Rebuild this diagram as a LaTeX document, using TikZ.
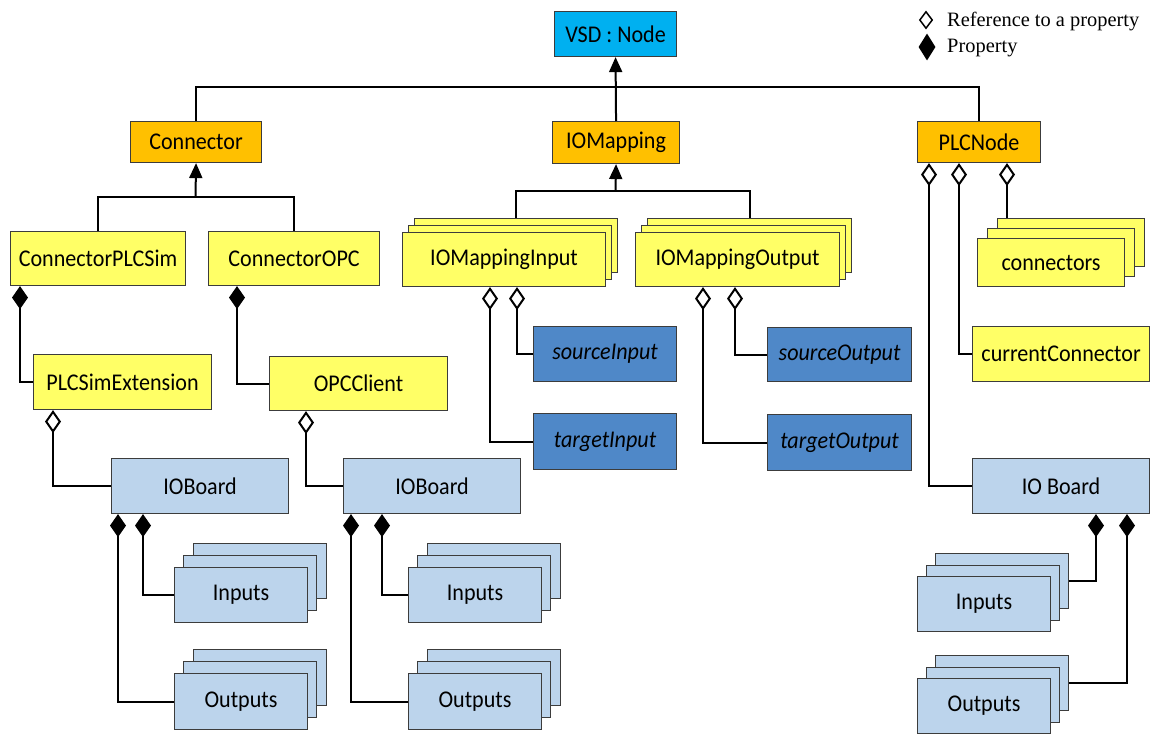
\documentclass[tikz,border=0pt]{standalone}
\usepackage{fontspec}
\setmainfont{Carlito}[FakeStretch=0.92]
\newfontfamily\legendfont{Liberation Serif}
\usetikzlibrary{arrows.meta,shapes.geometric}

\definecolor{vsdblue}{HTML}{00B0F0}
\definecolor{basegold}{HTML}{FFC000}
\definecolor{classyellow}{HTML}{FFFF66}
\definecolor{refblue}{HTML}{4F88C8}
\definecolor{ioblue}{HTML}{BCD4EC}
\definecolor{edge}{HTML}{3C3C3C}

\begin{document}
\begin{tikzpicture}[x=1pt,y=-1pt,
  box/.style={draw=edge, line width=1.1pt, inner sep=0pt, anchor=north west,
              font=\fontsize{24}{26}\selectfont},
  wh/.style 2 args={minimum width=#1pt, minimum height=#2pt},
  vsdbox/.style={box, fill=vsdblue},
  basebox/.style={box, fill=basegold},
  classbox/.style={box, fill=classyellow},
  propbox/.style={box, fill=refblue, font=\fontsize{24}{26}\selectfont\itshape},
  iobox/.style={box, fill=ioblue},
  link/.style={line width=2pt},
  inherit/.style={link, -{Triangle[width=13pt,length=15pt]}},
  owns/.style={link, {Diamond[width=16pt,length=23pt]}-},
  refers/.style={link, {Diamond[width=16pt,length=23pt,fill=white]}-},
  legendtext/.style={anchor=base west, inner sep=0pt,
                     font=\legendfont\fontsize{20.4}{22}\selectfont},
]
\path[use as bounding box, fill=white] (0,0) rectangle (1150,733);

% ---- legend
\node[diamond, draw=black, line width=1.5pt, fill=white, inner sep=0pt,
      minimum width=13pt, minimum height=17pt] (lgref) at (926,20) {};
\node[diamond, fill=black, inner sep=0pt,
      minimum width=17pt, minimum height=27pt] (lgprop) at (927,47) {};
\node[legendtext] (lgreftext) at (947,27) {Reference to a property};
\node[legendtext] (lgproptext) at (947,53) {Property};

% ---- class hierarchy
\node[vsdbox, wh={122}{45}] (vsd) at (554,11) {VSD : Node};
\node[basebox, wh={131}{41}] (conn) at (130,121) {Connector};
\node[basebox, wh={127}{42}] (iomap) at (552,121) {IOMapping};
\node[basebox, wh={123}{41}] (plc) at (917,121) {PLCNode};

\node[classbox, wh={175}{54}] (cplc) at (10,231) {ConnectorPLCSim};
\node[classbox, wh={171}{54}] (copc) at (208,231) {ConnectorOPC};
\node[classbox, wh={178}{55}] (ext) at (33,354) {PLCSimExtension};
\node[classbox, wh={178}{54}] (opc) at (269,356) {OPCClient};

\node[iobox, wh={177}{55}] (ioA) at (111,458) {IOBoard};
\node[iobox, wh={177}{55}] (ioB) at (343,458) {IOBoard};

% collections drawn as three stacked boxes, back to front
\node[iobox, wh={133}{55}] (inA3) at (192.6,543) {};
\node[iobox, wh={133}{55}] (inA2) at (183.3,555) {};
\node[iobox, wh={133}{55}] (inA) at (174,567) {Inputs};
\node[iobox, wh={133}{56}] (outA3) at (192.6,649) {};
\node[iobox, wh={133}{56}] (outA2) at (183.3,661) {};
\node[iobox, wh={133}{56}] (outA) at (174,673) {Outputs};

\node[iobox, wh={133}{55}] (inB3) at (426.6,543) {};
\node[iobox, wh={133}{55}] (inB2) at (417.3,555) {};
\node[iobox, wh={133}{55}] (inB) at (408,567) {Inputs};
\node[iobox, wh={133}{56}] (outB3) at (426.6,649) {};
\node[iobox, wh={133}{56}] (outB2) at (417.3,661) {};
\node[iobox, wh={133}{56}] (outB) at (408,673) {Outputs};

\node[classbox, wh={203}{54}] (mapIn3) at (414,218) {};
\node[classbox, wh={203}{54}] (mapIn2) at (408,225) {};
\node[classbox, wh={203}{54}] (mapIn) at (402,232) {IOMappingInput};
\node[classbox, wh={204}{54}] (mapOut3) at (647,218) {};
\node[classbox, wh={204}{54}] (mapOut2) at (641,225) {};
\node[classbox, wh={204}{54}] (mapOut) at (635,232) {IOMappingOutput};

\node[propbox, wh={143}{55}] (srcIn) at (533,326) {sourceInput};
\node[propbox, wh={143}{56}] (tgtIn) at (533,413) {targetInput};
\node[propbox, wh={144}{54}] (srcOut) at (767,327) {sourceOutput};
\node[propbox, wh={144}{56}] (tgtOut) at (767,414) {targetOutput};

\node[classbox, wh={147}{48}] (conns3) at (997,218) {};
\node[classbox, wh={147}{48}] (conns2) at (987,228) {};
\node[classbox, wh={147}{48}] (conns) at (977,238) {connectors};
\node[classbox, wh={177}{55}] (cur) at (972,326) {currentConnector};

\node[iobox, wh={177}{55}] (ioC) at (972,458) {IO Board};
\node[iobox, wh={133}{55}] (inC3) at (935,553) {};
\node[iobox, wh={133}{55}] (inC2) at (926,564.5) {};
\node[iobox, wh={133}{55}] (inC) at (917,576) {Inputs};
\node[iobox, wh={133}{55}] (outC3) at (935,655) {};
\node[iobox, wh={133}{55}] (outC2) at (926,666.5) {};
\node[iobox, wh={133}{55}] (outC) at (917,678) {Outputs};

% ---- generalisation
\draw[link] (conn.north) -- ++(0,-34) -| (plc.north);
\draw[inherit] (iomap.north) -- (vsd.south);

\coordinate (cjoin) at (195.5,197);
\draw[link] (cplc.north) |- (cjoin) -| (copc.north);
\draw[inherit] (cjoin) -- (conn.south);

\coordinate (mjoin) at (615.5,191);
\draw[link] (mapIn3.north) |- (mjoin) -| (mapOut3.north);
\draw[inherit] (mjoin) -- (iomap.south);

% ---- properties
\draw[owns] ([xshift=10pt]cplc.south west) |- (ext.west);
\draw[owns] ([xshift=29pt]copc.south west) |- (opc.west);
\draw[owns] ([xshift=7pt]ioA.south west) |- (outA.west);
\draw[owns] ([xshift=32pt]ioA.south west) |- (inA.west);
\draw[owns] ([xshift=8pt]ioB.south west) |- (outB.west);
\draw[owns] ([xshift=39pt]ioB.south west) |- (inB.west);
\draw[owns] ([xshift=124pt]ioC.south west) |- (inC3.east);
\draw[owns] ([xshift=155pt]ioC.south west) |- (outC3.east);

% ---- references to properties
\draw[refers] ([xshift=20pt]ext.south west) |- (ioA.west);
\draw[refers] ([xshift=37pt]opc.south west) |- (ioB.west);
\draw[refers] ([xshift=88pt]mapIn.south west) |- (tgtIn.west);
\draw[refers] ([xshift=115pt]mapIn.south west) |- (srcIn.west);
\draw[refers] ([xshift=68pt]mapOut.south west) |- (tgtOut.west);
\draw[refers] ([xshift=100pt]mapOut.south west) |- (srcOut.west);
\draw[refers] ([xshift=12pt]plc.south west) |- (ioC.west);
\draw[refers] ([xshift=42pt]plc.south west) |- (cur.west);
\coordinate (plcconn) at ([xshift=90pt]plc.south west);
\draw[refers] (plcconn) -- (plcconn |- conns3.north);
\end{tikzpicture}
\end{document}
